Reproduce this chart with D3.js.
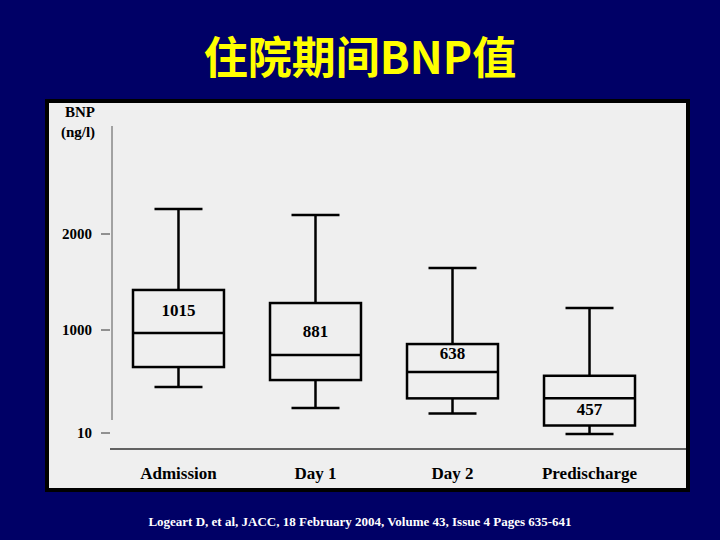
<!DOCTYPE html><html><head><meta charset="utf-8"><script src="https://cdn.jsdelivr.net/npm/d3@7"></script>
<style>body{margin:0;background:#000066}</style></head><body><script>
const categories=["Admission","Day 1","Day 2","Predischarge"];
const whiskerHigh=[2260,2198,1646,1229];
const q3=[1417,1281,865,560];
const medians=[970,760,596,343];
const q1=[644,519,343,82];
const whiskerLow=[452,250,198,0];
const labels=["1015","881","638","457"];
const labelValues=[1150,930,720,180];
const yTicks=[10,1000,2000];
const W=720,H=540;
const svg=d3.select("body").append("svg").attr("width",W).attr("height",H);
svg.append("rect").attr("width",W).attr("height",H).attr("fill","#000066");
svg.append("text").attr("x",360).attr("y",74).attr("text-anchor","middle").attr("fill","#ffff00")
 .attr("font-family","'Noto Sans CJK SC',sans-serif").attr("font-weight","bold").attr("font-size",44).text("住院期间BNP值");
svg.append("rect").attr("x",47).attr("y",101).attr("width",641).attr("height",389).attr("fill","#efefef").attr("stroke","#000").attr("stroke-width",4);
const y=d3.scaleLinear().domain([10,1000,2000]).range([433,330,234]);
const x=d3.scaleBand().domain(categories).range([133,635]).paddingInner(0.336).paddingOuter(0);
const f="'Liberation Serif',serif";
const g=svg.append("g");
g.append("line").attr("x1",112).attr("x2",112).attr("y1",126).attr("y2",420).attr("stroke","#555").attr("stroke-width",1);
g.append("line").attr("x1",110).attr("x2",686).attr("y1",449).attr("y2",449).attr("stroke","#333").attr("stroke-width",1.5);
yTicks.forEach(t=>{
 g.append("text").attr("x",92).attr("y",y(t)+5).attr("text-anchor","end").attr("font-family",f).attr("font-weight","bold").attr("font-size",15).text(t);
 g.append("line").attr("x1",101).attr("x2",110).attr("y1",y(t)).attr("y2",y(t)).attr("stroke","#333");
});
g.append("text").attr("x",80).attr("y",117).attr("text-anchor","middle").attr("font-family",f).attr("font-weight","bold").attr("font-size",15).text("BNP");
g.append("text").attr("x",78).attr("y",137).attr("text-anchor","middle").attr("font-family",f).attr("font-weight","bold").attr("font-size",15).text("(ng/l)");
categories.forEach((c,i)=>{
 const x0=x(c),bw=x.bandwidth(),cx=x0+bw/2;
 const L=(a,b,c2,d)=>g.append("line").attr("x1",a).attr("x2",b).attr("y1",c2).attr("y2",d).attr("stroke","#000").attr("stroke-width",2.5);
 L(cx,cx,y(whiskerHigh[i]),y(q3[i]));L(cx,cx,y(q1[i]),y(whiskerLow[i]));
 L(cx-24,cx+24,y(whiskerHigh[i]),y(whiskerHigh[i]));L(cx-24,cx+24,y(whiskerLow[i]),y(whiskerLow[i]));
 g.append("rect").attr("x",x0).attr("y",y(q3[i])).attr("width",bw).attr("height",y(q1[i])-y(q3[i])).attr("fill","none").attr("stroke","#000").attr("stroke-width",2.5);
 L(x0,x0+bw,y(medians[i]),y(medians[i]));
 g.append("text").attr("x",cx).attr("y",y(labelValues[i])).attr("text-anchor","middle").attr("font-family",f).attr("font-weight","bold").attr("font-size",17).text(labels[i]);
 g.append("text").attr("x",cx).attr("y",479).attr("text-anchor","middle").attr("font-family",f).attr("font-weight","bold").attr("font-size",17).text(c);
});
svg.append("text").attr("x",360).attr("y",526).attr("text-anchor","middle").attr("fill","#fff").attr("font-family",f).attr("font-weight","bold").attr("font-size",13)
 .text("Logeart D, et al, JACC, 18 February 2004, Volume 43, Issue 4 Pages 635-641");
</script></body></html>
